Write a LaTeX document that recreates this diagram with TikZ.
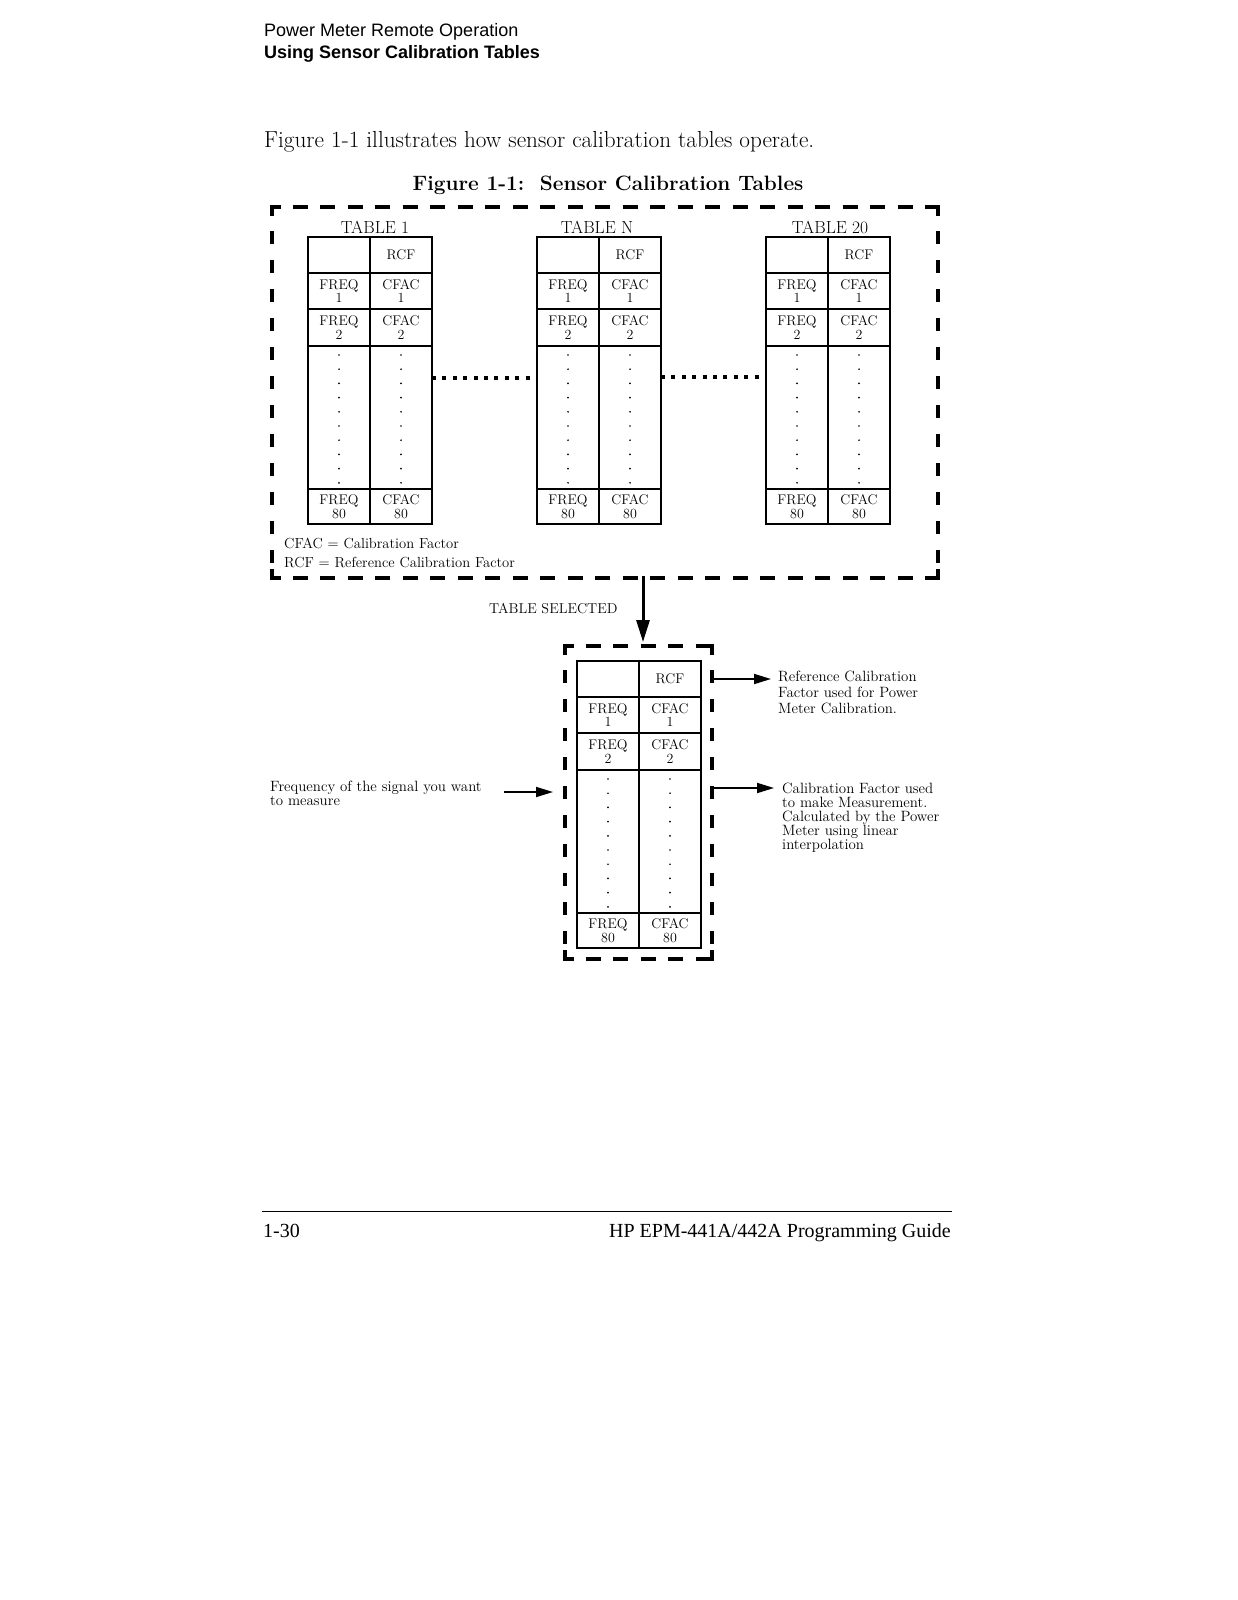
\documentclass[tikz,border=0pt]{standalone}
\usepackage{fontspec}
\newfontfamily\hsans{Liberation Sans}
\newfontfamily\tnr{Liberation Serif}
\usetikzlibrary{arrows.meta,calc}

\tikzset{
 cell/.style={draw, line width=1.6pt, minimum width=62pt, inner sep=0pt, outer sep=0pt,
   anchor=north west, align=center, font=\fontsize{14}{13.5}\selectfont},
 frameh/.style={line width=3.6pt, dash pattern=on 15pt off 12.5pt, dash phase=7pt},
 framev/.style={line width=3.6pt, dash pattern=on 13pt off 16pt, dash phase=5pt},
 corner/.style={line width=3.6pt},
 dotconn/.style={line width=3.6pt, dash pattern=on 4pt off 6.4pt},
 arr/.style={line width=1.8pt, -{Triangle[length=17pt,width=10pt]}},
 bigarr/.style={line width=3pt, -{Triangle[length=22pt,width=13pt]}},
 note/.style={anchor=north west, inner xsep=4pt, inner ysep=0pt, align=left,
   font=\fontsize{14.9}{16}\selectfont},
 txt/.style={anchor=base west, inner sep=0pt},
}

\newcommand\caltable[3]{%
 \node[cell, minimum height=36pt] (#1-a0) at (#2,#3) {};
 \node[cell, minimum height=36pt] (#1-b0) at (#1-a0.north east) {RCF};
 \node[cell, minimum height=36pt] (#1-a1) at (#1-a0.south west) {FREQ\\1};
 \node[cell, minimum height=36pt] (#1-b1) at (#1-a1.north east) {CFAC\\1};
 \node[cell, minimum height=37pt] (#1-a2) at (#1-a1.south west) {FREQ\\2};
 \node[cell, minimum height=37pt] (#1-b2) at (#1-a2.north east) {CFAC\\2};
 \node[cell, minimum height=143pt] (#1-ad) at (#1-a2.south west) {};
 \node[cell, minimum height=143pt] (#1-bd) at (#1-ad.north east) {};
 \node[cell, minimum height=35pt] (#1-a8) at (#1-ad.south west) {FREQ\\80};
 \node[cell, minimum height=35pt] (#1-b8) at (#1-a8.north east) {CFAC\\80};
 \foreach \k in {0,...,9}{
   \fill ([yshift=-9pt-14.2pt*\k]#1-ad.north) circle (0.95pt);
   \fill ([yshift=-9pt-14.2pt*\k]#1-bd.north) circle (0.95pt);
 }}

\newcommand\dashframe[1]{%
 \draw[frameh] (#1.north west) -- (#1.north east);
 \draw[frameh] (#1.south west) -- (#1.south east);
 \draw[framev] (#1.north west) -- (#1.south west);
 \draw[framev] (#1.north east) -- (#1.south east);
 \draw[corner] ([xshift=9pt]#1.north west) -- (#1.north west) -- ([yshift=-9pt]#1.north west);
 \draw[corner] ([xshift=-9pt]#1.north east) -- (#1.north east) -- ([yshift=-9pt]#1.north east);
 \draw[corner] ([xshift=9pt]#1.south west) -- (#1.south west) -- ([yshift=9pt]#1.south west);
 \draw[corner] ([xshift=-9pt]#1.south east) -- (#1.south east) -- ([yshift=9pt]#1.south east);
}

\begin{document}
\begin{tikzpicture}[x=1pt,y=-1pt]
\path[fill=white,use as bounding box] (0,0) rectangle (1237,1600);

% page header and text
\node[txt, font=\hsans\fontsize{18}{20}\selectfont] (hdr1) at (264,37) {Power Meter Remote Operation};
\node[txt, font=\hsans\bfseries\fontsize{18}{20}\selectfont] (hdr2) at (264,59) {Using Sensor Calibration Tables};
\node[txt, font=\fontsize{23.2}{26}\selectfont] (intro) at (264,147) {Figure 1-1 illustrates how sensor calibration tables operate.};
\node[anchor=base, inner sep=0pt, font=\bfseries\fontsize{20.8}{24}\selectfont] (title) at (608,190) {Figure 1-1:\ \ Sensor Calibration Tables};

% outer frame
\node[minimum width=666pt, minimum height=371pt, inner sep=0pt, outer sep=0pt, anchor=north west] (tables) at (272,207) {};
\dashframe{tables}

% tables
\caltable{t1}{308}{237}
\caltable{tN}{537}{237}
\caltable{t20}{766}{237}
\node[anchor=base, inner sep=0pt, font=\fontsize{17.5}{20}\selectfont] (lab1) at (375,233) {TABLE 1};
\node[anchor=base, inner sep=0pt, font=\fontsize{17.5}{20}\selectfont] (labN) at (597,233) {TABLE N};
\node[anchor=base, inner sep=0pt, font=\fontsize{17.5}{20}\selectfont] (lab20) at (830,233) {TABLE 20};

\draw[dotconn] ([yshift=-32pt]t1-bd.north east) -- ([yshift=-32pt]tN-ad.north west);
\draw[dotconn] ([yshift=-31pt]tN-bd.north east) -- ([yshift=-31pt]t20-ad.north west);

\node[note, inner xsep=0pt, font=\fontsize{14.6}{19}\selectfont] (legend) at (284,538) {CFAC = Calibration Factor\\RCF = Reference Calibration Factor};

% selected table
\node[minimum width=147pt, minimum height=313pt, inner sep=0pt, outer sep=0pt, anchor=north west] (selbox) at (565,646) {};
\dashframe{selbox}
\caltable{sel}{577}{661}

\coordinate (selin) at (643,576);
\draw[bigarr, shorten >=4pt] (selin) -- (selin |- selbox.north);
\node[txt, font=\fontsize{14.3}{16}\selectfont] (selected) at (489,613) {TABLE SELECTED};

% notes and arrows
\node[note] (refnote) at (774,671) {Reference Calibration\\Factor used for Power\\Meter Calibration.};
\draw[arr, shorten >=3pt] (selbox.east |- sel-b0.center) -- (refnote.west |- sel-b0.center);

\node[note, font=\fontsize{14.9}{14}\selectfont] (calnote) at (778,783) {Calibration Factor used\\to make Measurement.\\Calculated by the Power\\Meter using linear\\interpolation};
\path (calnote.north west) ++(0,5) coordinate (calin);
\draw[arr, shorten >=4pt] (selbox.east |- calin) -- (calin);

\node[note, inner xsep=0pt, font=\fontsize{14.9}{14}\selectfont] (freqnote) at (270,781) {Frequency of the signal you want\\to measure};
\path ([xshift=22pt]freqnote.north east) ++(0,11) coordinate (fq);
\draw[arr, shorten >=12pt] (fq) -- (fq -| selbox.west);

% footer
\draw[line width=0.9pt] (262,1211) -- (952,1211);
\node[txt, font=\tnr\fontsize{20}{22}\selectfont] (pgnum) at (263,1237) {1-30};
\node[anchor=base east, inner sep=0pt, font=\tnr\fontsize{20}{22}\selectfont] (guide) at (951,1237) {HP EPM-441A/442A Programming Guide};
\end{tikzpicture}
\end{document}
